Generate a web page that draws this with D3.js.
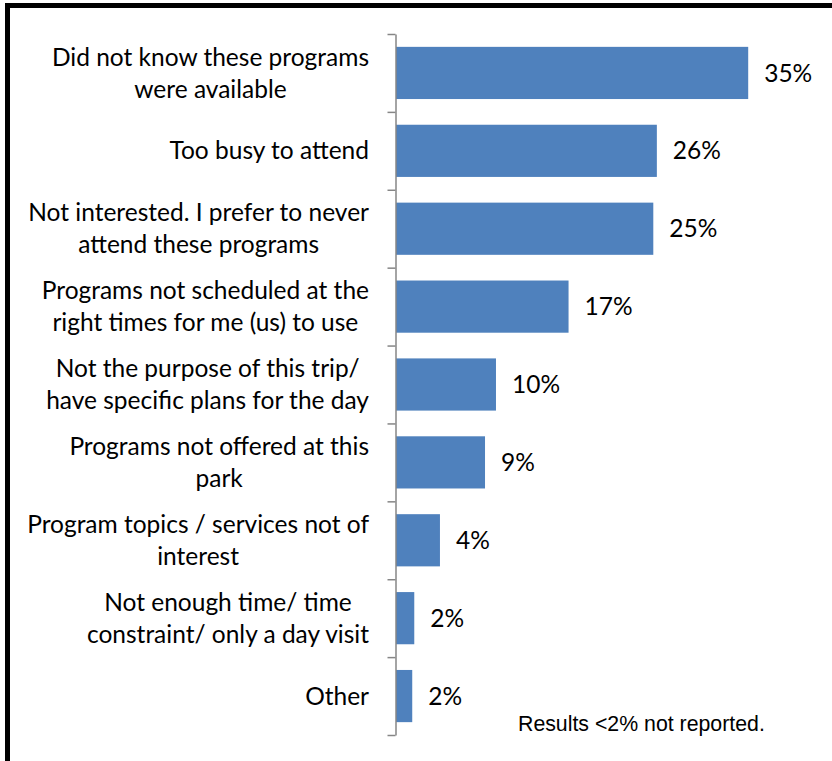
<!DOCTYPE html>
<html>
<head>
<meta charset="utf-8">
<script src="https://cdn.jsdelivr.net/npm/d3@7"></script>
<style>
  html, body { margin: 0; padding: 0; background: #fff; }
  svg { display: block; }
</style>
</head>
<body>
<svg id="chart" width="832" height="761"></svg>
<script>
// ---- data ----
const categories = [
  "Did not know these programs\nwere available",
  "Too busy to attend",
  "Not interested. I prefer to never\nattend these programs",
  "Programs not scheduled at the\nright times for me (us) to use",
  "Not the purpose of this trip/\nhave specific plans for the day",
  "Programs not offered at this\npark",
  "Program topics / services not of\ninterest",
  "Not enough time/ time\nconstraint/ only a day visit",
  "Other"
];
const values = [34.7, 25.7, 25.35, 17.0, 9.85, 8.77, 4.33, 1.8, 1.6];
const axisMax = 40;
const footnote = "Results <2% not reported.";

// ---- layout ----
const svg = d3.select("#chart");
const W = 832, H = 761;
const plot = { left: 396, right: 802, top: 34, bottom: 735 };
const catFont = "Lato, 'Carlito', Calibri, sans-serif";
const catSize = 24.5;

svg.append("rect").attr("width", W).attr("height", H).attr("fill", "#fff");

const x = d3.scaleLinear().domain([0, axisMax]).range([plot.left, plot.right]);
const y = d3.scaleBand().domain(categories).range([plot.top, plot.bottom])
  .paddingInner(0.33).paddingOuter(0.165);

// bars
svg.append("g").selectAll("rect").data(values).join("rect")
  .attr("x", x(0))
  .attr("y", (d, i) => y(categories[i]))
  .attr("width", d => x(d) - x(0))
  .attr("height", y.bandwidth())
  .attr("fill", "#4F81BD");

// category axis (ticks at band boundaries)
const tickScale = d3.scaleLinear().domain([0, categories.length]).range([plot.top, plot.bottom]);
const axis = d3.axisLeft(tickScale).tickValues(d3.range(categories.length + 1))
  .tickSize(8).tickSizeOuter(0).tickFormat("");
const ag = svg.append("g").attr("transform", `translate(${plot.left - 0.5},0)`).call(axis);
ag.selectAll("path, line").attr("stroke", "#868686").attr("stroke-width", 1.5);

// category labels
const lineH = 32;
const labelRight = 369;
categories.forEach((c, i) => {
  const lines = c.split("\n");
  const cy = y(c) + y.bandwidth() / 2;
  const g = svg.append("g");
  const texts = lines.map((ln, j) => g.append("text")
    .attr("y", cy + (j - (lines.length - 1) / 2) * lineH)
    .attr("dy", "0.35em")
    .attr("text-anchor", "middle")
    .attr("font-family", catFont)
    .attr("font-size", catSize)
    .attr("fill", "#000")
    .text(ln));
  const maxW = d3.max(texts, t => t.node().getComputedTextLength());
  texts.forEach(t => t.attr("x", labelRight - maxW / 2));
});

// value labels
svg.append("g").selectAll("text").data(values).join("text")
  .attr("x", d => x(d) + 16)
  .attr("y", (d, i) => y(categories[i]) + y.bandwidth() / 2)
  .attr("dy", "0.35em")
  .attr("font-family", catFont)
  .attr("font-size", catSize)
  .attr("fill", "#000")
  .text(d => d3.format(".0f")(d) + "%");

// footnote
svg.append("text")
  .attr("x", 518).attr("y", 731)
  .attr("font-family", "'Liberation Sans', Arial, sans-serif")
  .attr("font-size", 21.3)
  .attr("fill", "#000")
  .text(footnote);

// outer border (top & left visible)
svg.append("rect")
  .attr("x", 7.5).attr("y", 5.5)
  .attr("width", 830).attr("height", 800)
  .attr("fill", "none").attr("stroke", "#000").attr("stroke-width", 5);
</script>
</body>
</html>
